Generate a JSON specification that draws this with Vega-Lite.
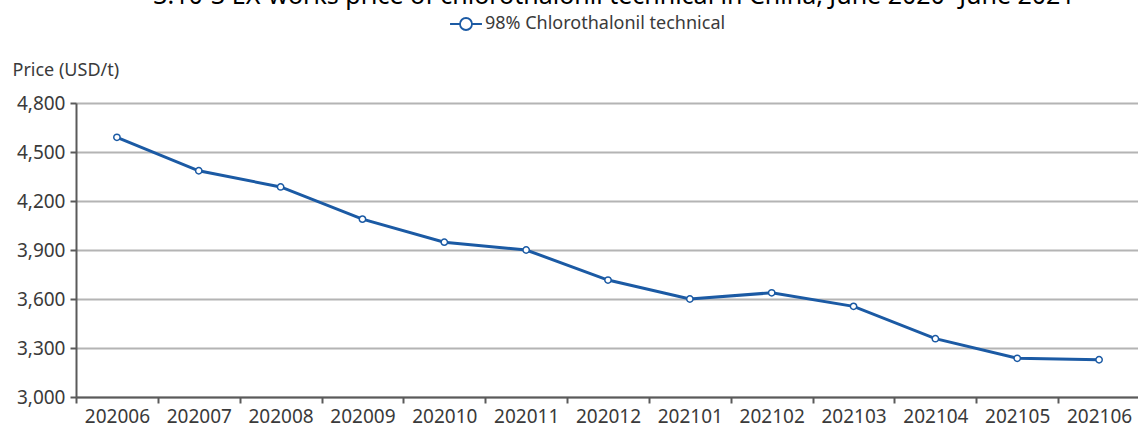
{
  "$schema": "https://vega.github.io/schema/vega-lite/v6.json",
  "autosize": "none",
  "width": 1064,
  "height": 294,
  "padding": {"left": 76, "top": 103, "right": 0, "bottom": 31},
  "background": "white",
  "title": {
    "text": "3.10-3 EX-works price of chlorothalonil technical in China, June 2020~June 2021",
    "anchor": "middle",
    "dx": 6,
    "dy": 19,
    "offset": 1,
    "baseline": "alphabetic",
    "font": "Noto Sans",
    "fontSize": 25,
    "fontWeight": "normal",
    "color": "#000000"
  },
  "data": {
    "values": [
      {"month": "202006", "price": 4590, "series": "98% Chlorothalonil technical"},
      {"month": "202007", "price": 4385, "series": "98% Chlorothalonil technical"},
      {"month": "202008", "price": 4286, "series": "98% Chlorothalonil technical"},
      {"month": "202009", "price": 4089, "series": "98% Chlorothalonil technical"},
      {"month": "202010", "price": 3948, "series": "98% Chlorothalonil technical"},
      {"month": "202011", "price": 3900, "series": "98% Chlorothalonil technical"},
      {"month": "202012", "price": 3716, "series": "98% Chlorothalonil technical"},
      {"month": "202101", "price": 3600, "series": "98% Chlorothalonil technical"},
      {"month": "202102", "price": 3638, "series": "98% Chlorothalonil technical"},
      {"month": "202103", "price": 3555, "series": "98% Chlorothalonil technical"},
      {"month": "202104", "price": 3357, "series": "98% Chlorothalonil technical"},
      {"month": "202105", "price": 3237, "series": "98% Chlorothalonil technical"},
      {"month": "202106", "price": 3228, "series": "98% Chlorothalonil technical"}
    ]
  },
  "encoding": {
    "x": {
      "field": "month",
      "type": "ordinal",
      "sort": null,
      "scale": {"type": "band", "paddingInner": 0, "paddingOuter": 0},
      "axis": {
        "title": null,
        "labelAngle": 0,
        "labelFont": "Noto Sans",
        "labelFontSize": 19,
        "labelColor": "#3a3a3a",
        "labelPadding": 4,
        "tickBand": "extent",
        "tickSize": 6,
        "tickColor": "#5a5a5a",
        "tickWidth": 2,
        "domainColor": "#5a5a5a",
        "domainWidth": 2,
        "grid": false
      }
    },
    "y": {
      "field": "price",
      "type": "quantitative",
      "scale": {"domain": [3000, 4800], "nice": false, "zero": false},
      "axis": {
        "values": [3000, 3300, 3600, 3900, 4200, 4500, 4800],
        "format": ",.0f",
        "title": "Price (USD/t)",
        "titleAngle": 0,
        "titleAlign": "left",
        "titleBaseline": "alphabetic",
        "titleX": -64,
        "titleY": -28,
        "titleFont": "Noto Sans",
        "titleFontSize": 18,
        "titleFontWeight": "normal",
        "titleColor": "#3a3a3a",
        "labelFont": "Noto Sans",
        "labelFontSize": 19,
        "labelColor": "#3a3a3a",
        "labelPadding": 5,
        "tickSize": 6,
        "tickColor": "#5a5a5a",
        "tickWidth": 2,
        "domainColor": "#5a5a5a",
        "domainWidth": 2,
        "grid": true,
        "gridColor": "#b4b4b4",
        "gridWidth": 2
      }
    }
  },
  "layer": [
    {
      "mark": {"type": "line", "strokeWidth": 3},
      "encoding": {
        "color": {
          "field": "series",
          "type": "nominal",
          "scale": {"range": ["#1B5AA4"]},
          "legend": {
            "title": null,
            "orient": "none",
            "legendX": 377,
            "legendY": -92,
            "labelFont": "Noto Sans",
            "labelFontSize": 18,
            "labelColor": "#3a3a3a",
            "labelLimit": 0,
            "symbolType": "M-1.33,0H-0.5M0.5,0H1.33M-0.5,0A0.5,0.5 0 1,0 0.5,0A0.5,0.5 0 1,0 -0.5,0Z",
            "symbolSize": 576,
            "symbolStrokeWidth": 1.8,
            "symbolFillColor": "white",
            "symbolStrokeColor": "#1B5AA4",
            "labelOffset": 6,
            "encode": {
              "symbols": {
                "update": {
                  "fill": {"value": "white"},
                  "stroke": {"value": "#1B5AA4"},
                  "strokeWidth": {"value": 1.8},
                  "opacity": {"value": 1}
                }
              }
            }
          }
        }
      }
    },
    {
      "mark": {"type": "point", "filled": false, "fill": "white", "fillOpacity": 1, "stroke": "#1B5AA4", "strokeWidth": 1.5, "size": 40, "opacity": 1},
      "encoding": {}
    }
  ]
}
